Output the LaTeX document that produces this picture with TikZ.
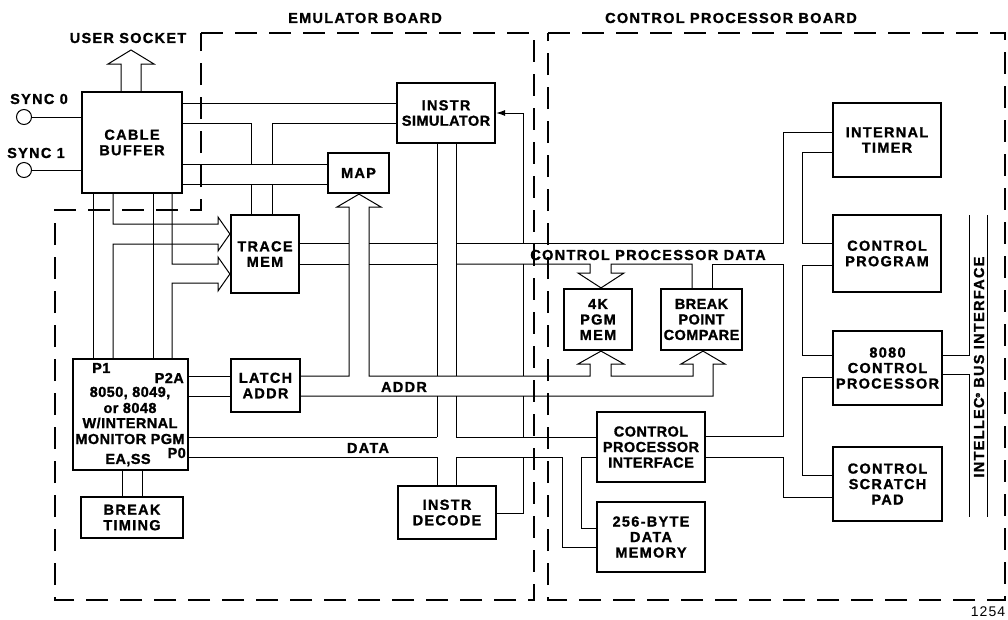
\documentclass[tikz,border=0pt]{standalone}
\usepackage{fontspec}
\setmainfont{Liberation Sans}[LetterSpace=9, BoldFeatures={FakeBold=1.2}]
\newfontfamily\tightfont{Liberation Sans}[LetterSpace=3, BoldFeatures={FakeBold=1.2}]
\newfontfamily\plainfont{Liberation Sans}[LetterSpace=8]
\usetikzlibrary{arrows.meta}
\newcommand\dlbl{\fontsize{14.5}{15.5}\selectfont\bfseries}
\newcommand\tlbl{\tightfont\fontsize{14.5}{15.5}\selectfont\bfseries}
\newcommand\blk[6]{\node[box, minimum width={#4-#2}, minimum height={#5-#3}] (#1) at ({(#2+#4)/2},{(#3+#5)/2}) {#6};}
\tikzset{
  box/.style={draw, line width=2.2pt, fill=white, inner sep=0pt, align=center, font=\dlbl},
  wire/.style={line width=1pt, line join=miter},
  lbl/.style={font=\dlbl, inner sep=0pt, align=center},
  tlb/.style={font=\tlbl, inner sep=0pt, align=center},
  board/.style={line width=1.3pt, dash pattern=on 22pt off 12pt},
}
\begin{document}
\begin{tikzpicture}[x=1pt,y=-1pt]
\useasboundingbox[fill=white] (0,0) rectangle (1008,619);
% boards
\draw[board] (201,33) -- (534,33) -- (534,600) -- (55,600) -- (55,210) -- (201,210) -- cycle;
\draw[board] (548,33) -- (1005,33) -- (1005,600) -- (548,600) -- cycle;
\node[lbl] (eb) at (365,18) {EMULATOR BOARD};
\node[lbl] (cpb) at (731,18) {CONTROL PROCESSOR BOARD};
% boxes
\blk{cb}{82}{92}{182}{193}{CABLE\\BUFFER}
\blk{is}{397}{83}{495}{143}{INSTR\\{\tlbl SIMULATOR}}
\blk{map}{328}{153}{389}{193}{MAP}
\blk{tm}{231}{215}{299}{293}{TRACE\\MEM}
\blk{p1}{73}{359}{188}{470}{}
\blk{la}{231}{359}{300}{412}{LATCH\\ADDR}
\blk{bt}{81}{497}{183}{538}{BREAK\\TIMING}
\blk{id}{398}{486}{496}{539}{INSTR\\DECODE}
\blk{pgm}{564}{289}{632}{350}{4K\\PGM\\MEM}
\blk{bpc}{661}{289}{742}{350}{{\tlbl BREAK}\\{\tlbl POINT}\\{\tlbl COMPARE}}
\blk{cpi}{597}{412}{705}{482}{{\tlbl CONTROL}\\{\tlbl PROCESSOR}\\{\tlbl INTERFACE}}
\blk{dm}{597}{502}{705}{572}{256-BYTE\\DATA\\MEMORY}
\blk{tim}{833}{103}{941}{177}{INTERNAL\\TIMER}
\blk{prg}{833}{215}{941}{292}{CONTROL\\PROGRAM}
\blk{cpu}{833}{331}{942}{405}{8080\\CONTROL\\PROCESSOR}
\blk{sp}{833}{447}{942}{521}{CONTROL\\SCRATCH\\PAD}
% P1 block texts
\node[tlb, anchor=west] (tp1) at (92,368) {P1};
\node[tlb, anchor=east] (tp2a) at (184,378) {P2A};
\node[tlb] (tl1) at (130,393) {8050, 8049,};
\node[tlb] (tl2) at (130,408) {or 8048};
\node[tlb] (tl3) at (130,423) {W/INTERNAL};
\node[tlb] (tl4) at (130,439) {MONITOR PGM};
\node[tlb, anchor=east] (tp0) at (186,453) {P0};
\node[tlb] (tea) at (128,460) {EA,SS};
% labels
\node[lbl] (us) at (128,38) {USER SOCKET};
\node[lbl] (ts0) at (39,99) {SYNC 0};
\node[lbl] (ts1) at (36,153) {SYNC 1};
\node[lbl] (cpd) at (648,255) {CONTROL PROCESSOR DATA};
\node[lbl] (taddr) at (404,387) {ADDR};
\node[lbl] (tdata) at (368,448) {DATA};
\node[lbl, rotate=90] (ibi) at (979,367) {INTELLEC{\raisebox{4pt}{\fontsize{6}{6}\selectfont ®}} BUS INTERFACE};
\node[inner sep=0pt, font={\plainfont\fontsize{14}{14}\selectfont}] (fig) at (988,612) {1254};
% sync inputs
\node[circle, draw, line width=1pt, minimum size=15pt, inner sep=0pt] (s0) at (24,117) {};
\node[circle, draw, line width=1pt, minimum size=15pt, inner sep=0pt] (s1) at (24,170) {};
\draw[wire] (s0.east) -- (cb.west|-s0.east);
\draw[wire] (s1.east) -- (cb.west|-s1.east);
% user socket
\draw[wire] (cb.north-|121,0) -- (121,64) -- (108,64) -- (131,50) -- (154,64) -- (141,64) -- (cb.north-|141,0);
% cable buffer -> instr simulator / trace
\draw[wire] (cb.east|-0,103) -- (is.west|-0,103);
\draw[wire] (cb.east|-0,123) -- (251,123) -- (251,164);
\draw[wire] (is.west|-0,123) -- (272,123) -- (272,164);
\draw[wire] (251,184) -- (tm.north-|251,0);
\draw[wire] (272,184) -- (tm.north-|272,0);
% cable buffer -> map
\draw[wire] (cb.east|-0,164) -- (map.west|-0,164);
\draw[wire] (cb.east|-0,184) -- (map.west|-0,184);
% P1 / P2A buses
\draw[wire] (cb.south-|93,0) -- (p1.north-|93,0);
\draw[wire] (cb.south-|113,0) -- (113,224) -- (218,224) -- (218,217) -- (tm.west|-0,234) -- (218,251) -- (218,244) -- (113,244) -- (p1.north-|113,0);
\draw[wire] (cb.south-|153,0) -- (p1.north-|153,0);
\draw[wire] (cb.south-|172,0) -- (172,264) -- (218,264) -- (218,257) -- (tm.west|-0,274) -- (218,291) -- (218,283) -- (172,283) -- (p1.north-|172,0);
% latch
\draw[wire] (p1.east|-0,376) -- (la.west|-0,376);
\draw[wire] (p1.east|-0,396) -- (la.west|-0,396);
% ADDR bus with MAP, 4K and BREAK arrows
\draw[wire] (la.east|-0,376) -- (349,376) -- (349,207) -- (337,207) -- (map.south-|359,0) -- (381,207) -- (369,207) -- (369,376)
  -- (590,376) -- (590,364) -- (578,364) -- (pgm.south-|601,0) -- (624,364) -- (611,364) -- (611,376)
  -- (693,376) -- (693,364) -- (681,364) -- (bpc.south-|703,0) -- (725,364) -- (713,364) -- (713,396) -- (la.east|-0,396);
% trace / control processor data bus
\draw[wire] (tm.east|-0,243) -- (349,243);
\draw[wire] (369,243) -- (437,243);
\draw[wire] (456,243) -- (783,243) -- (783,132) -- (tim.west|-0,132);
\draw[wire] (tm.east|-0,264) -- (349,264);
\draw[wire] (369,264) -- (437,264);
\draw[wire] (456,264) -- (590,264) -- (590,273) -- (578,273) -- (pgm.north-|601,0) -- (624,273) -- (611,273) -- (611,264) -- (692,264) -- (bpc.north-|692,0);
\draw[wire] (bpc.north-|712,0) -- (712,264) -- (783,264) -- (783,436) -- (cpi.east|-0,436);
\draw[wire] (cpi.east|-0,457) -- (783,457) -- (783,497) -- (sp.west|-0,497);
\draw[wire] (tim.west|-0,152) -- (802,152) -- (802,243) -- (prg.west|-0,243);
\draw[wire] (prg.west|-0,265) -- (802,265) -- (802,355) -- (cpu.west|-0,355);
\draw[wire] (cpu.west|-0,377) -- (802,377) -- (802,475) -- (sp.west|-0,475);
% intellec bus interface
\draw[wire] (cpu.east|-0,355) -- (969,355) -- (969,215);
\draw[wire] (cpu.east|-0,374) -- (969,374) -- (969,517);
\draw[wire] (987,215) -- (987,517);
% instr simulator bus
\draw[wire] (is.south-|437,0) -- (437,376);
\draw[wire] (437,396) -- (437,437);
\draw[wire] (is.south-|456,0) -- (456,376);
\draw[wire] (456,396) -- (456,437);
\draw[wire] (437,457) -- (id.north-|437,0);
\draw[wire] (456,457) -- (id.north-|456,0);
% DATA bus
\draw[wire] (p1.east|-0,437) -- (437,437);
\draw[wire] (456,437) -- (cpi.west|-0,437);
\draw[wire] (p1.east|-0,457) -- (437,457);
\draw[wire] (456,457) -- (562,457) -- (562,547) -- (dm.west|-0,547);
\draw[wire] (cpi.west|-0,457) -- (581,457) -- (581,528) -- (dm.west|-0,528);
% single line to instr simulator
\draw[wire, -{Latex[length=9pt,width=6pt]}] (523,243) -- (523,113) -- (is.east|-0,113);
\draw[wire] (523,264) -- (523,376);
\draw[wire] (523,396) -- (523,437);
\draw[wire] (523,457) -- (523,513) -- (id.east|-0,513);
% break timing
\draw[wire] (p1.south-|122,0) -- (bt.north-|122,0);
\draw[wire] (p1.south-|142,0) -- (bt.north-|142,0);
\end{tikzpicture}
\end{document}
